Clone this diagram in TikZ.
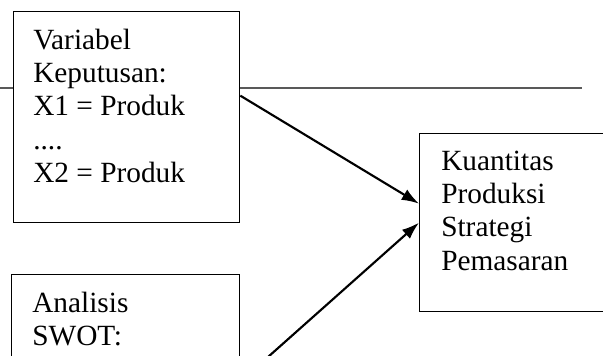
\documentclass[tikz,border=0pt]{standalone}
\usepackage{fontspec}
\setmainfont{Liberation Serif}
\usetikzlibrary{arrows.meta}

\begin{document}
\begin{tikzpicture}[x=1pt,y=1pt]

  \tikzstyle{boxnode}=[draw,rectangle,fill=white,line width=0.75pt,anchor=north west,inner sep=0pt]
  \tikzstyle{textnode}=[anchor=base west,align=left,inner sep=0pt,font=\fontsize{22}{25}\selectfont]
  \tikzstyle{pointer}=[draw,-{Latex[length=13pt,width=9pt]},line width=1.6pt]
  \tikzstyle{separator}=[draw,gray!70!black,line width=0.9pt]

  \clip (0,0) rectangle (452.25,-266.25);

  % line
  \coordinate (sepleft) at (0,-66);
  \coordinate (sepright) at (436.5,-66);
  \draw[separator] (sepleft) -- (sepright);

  % boxes
  \node[boxnode,minimum width=170pt,minimum height=158.25pt] (keputusan) at (9.5,-8.25) {};
  \node[boxnode,minimum width=160pt,minimum height=133.25pt] (hasil) at (314.25,-100) {};
  \node[boxnode,minimum width=171pt,minimum height=100pt] (swot) at (8.25,-205.5) {};

  % texts (base = last line)
  \node[textnode] (keputusantext) at ([shift={(15.25,-128.5)}]keputusan.north west) {Variabel\\Keputusan:\\X1 = Produk\\....\\X2 = Produk};
  \node[textnode] (hasiltext) at ([shift={(16.5,-102.5)}]hasil.north west) {Kuantitas\\Produksi\\Strategi\\Pemasaran};
  \node[textnode] (swottext) at ([shift={(15.75,-53.5)}]swot.north west) {Analisis\\SWOT:};

  % pointers
  \coordinate (swotend) at (194.25,-273.75);
  \draw[pointer] ([yshift=16pt]keputusan.east) -- ([yshift=14.25pt]hasil.west);
  \draw[pointer] (swotend) -- (hasil.west);

\end{tikzpicture}
\end{document}
